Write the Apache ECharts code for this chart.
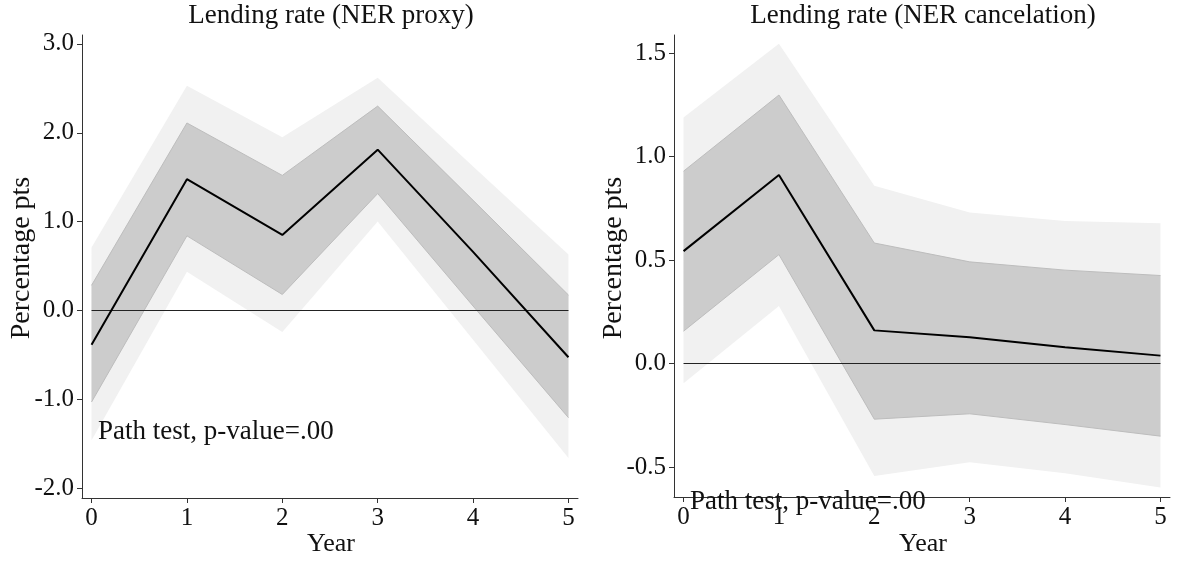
<!DOCTYPE html>
<html>
<head>
<meta charset="utf-8">
<script src="https://cdn.jsdelivr.net/npm/echarts@6/dist/echarts.min.js"></script>
<style>
html,body{margin:0;padding:0;background:#fff;}
#chart{width:1180px;height:563px;}
</style>
</head>
<body>
<div id="chart"></div>
<script>
// ---- data ----
const years = [0, 1, 2, 3, 4, 5];
const xTicks = [0, 1, 2, 3, 4, 5];

const proxyEst     = [-0.385, 1.478, 0.85, 1.81, 0.66, -0.526];
const proxyInnerLo = [-1.03, 0.84, 0.18, 1.316, 0.05, -1.206];
const proxyInnerHi = [0.283, 2.11, 1.52, 2.30, 1.24, 0.174];
const proxyOuterLo = [-1.46, 0.437, -0.243, 1.0, -0.33, -1.66];
const proxyOuterHi = [0.71, 2.53, 1.95, 2.62, 1.62, 0.63];
const proxyYTicks  = [-2, -1, 0, 1, 2, 3];

const cancelEst     = [0.543, 0.911, 0.16, 0.127, 0.078, 0.038];
const cancelInnerLo = [0.156, 0.526, -0.269, -0.243, -0.295, -0.351];
const cancelInnerHi = [0.929, 1.297, 0.582, 0.491, 0.451, 0.425];
const cancelOuterLo = [-0.095, 0.278, -0.543, -0.477, -0.53, -0.599];
const cancelOuterHi = [1.189, 1.545, 0.859, 0.729, 0.689, 0.677];
const cancelYTicks  = [-0.5, 0, 0.5, 1, 1.5];

const zeroLine = [0, 0, 0, 0, 0, 0];

const titles = ['Lending rate (NER proxy)', 'Lending rate (NER cancelation)'];
const yName = 'Percentage pts';
const xName = 'Year';
const noteText = 'Path test, p-value=.00';

// ---- chart ----
const FONT = '"Liberation Serif", "DejaVu Serif", serif';
const chart = echarts.init(document.getElementById('chart'), null, {renderer: 'canvas'});

function pairs(arr) { return years.map((x, i) => [x, arr[i]]); }

// confidence band drawn as one polygon through the axis scales (api.coord)
function band(g, lo, hi, color, edge) {
  const rows = years.map((x, i) => [x, lo[i], hi[i]]);
  return {
    type: 'custom', xAxisIndex: g, yAxisIndex: g, silent: true,
    data: rows,
    encode: {x: 0, y: [1, 2]},
    renderItem: function (params, api) {
      if (params.dataIndexInside !== 0) return null;
      const top = rows.map(r => api.coord([r[0], r[2]]));
      const bot = rows.map(r => api.coord([r[0], r[1]])).reverse();
      const children = [{
        type: 'polygon',
        shape: {points: top.concat(bot)},
        style: {fill: color, stroke: null}
      }];
      if (edge) {
        children.push({type: 'polyline', shape: {points: top},
          style: {stroke: edge, lineWidth: 1, fill: null}});
        children.push({type: 'polyline', shape: {points: bot},
          style: {stroke: edge, lineWidth: 1, fill: null}});
      }
      return {type: 'group', children: children};
    }
  };
}

function panelSeries(g, est, iLo, iHi, oLo, oHi) {
  return [
    band(g, oLo, oHi, '#f1f1f1', null),
    band(g, iLo, iHi, '#cccccc', '#bdbdbd'),
    {
      type: 'line', xAxisIndex: g, yAxisIndex: g, data: pairs(zeroLine),
      symbol: 'none', silent: true, lineStyle: {color: '#222', width: 1.2}
    }, {
      type: 'line', xAxisIndex: g, yAxisIndex: g, data: pairs(est),
      symbol: 'none', silent: true, lineStyle: {color: '#000', width: 2}
    }
  ];
}

const axisCommon = {
  axisLine: {show: true, onZero: false, lineStyle: {color: '#333', width: 1}},
  axisTick: {show: true, inside: false, length: 5, lineStyle: {color: '#333'}},
  splitLine: {show: false}
};

function xAxisFor(g) {
  return Object.assign({}, axisCommon, {
    type: 'value', gridIndex: g, min: -0.1, max: 5.1,
    axisTick: Object.assign({}, axisCommon.axisTick, {customValues: xTicks}),
    axisLabel: {customValues: xTicks, formatter: v => String(Math.round(v)),
      fontFamily: FONT, fontSize: 25, color: '#111', margin: 8}
  });
}
function yAxisFor(g, min, max, ticks) {
  return Object.assign({}, axisCommon, {
    type: 'value', gridIndex: g, min: min, max: max,
    axisTick: Object.assign({}, axisCommon.axisTick, {customValues: ticks}),
    axisLabel: {customValues: ticks, formatter: v => v.toFixed(1),
      fontFamily: FONT, fontSize: 25, color: '#111', margin: 8}
  });
}

function txt(x, y, text, size, align, rot) {
  return {
    type: 'text', x: x, y: y, rotation: rot || 0, silent: true, z: 100,
    style: {text: text, font: size + 'px ' + FONT, fill: '#111',
      textAlign: align, textVerticalAlign: 'middle'}
  };
}

const option = {
  animation: false,
  backgroundColor: '#fff',
  grid: [
    {left: 82, top: 35, width: 496, height: 463},
    {left: 674, top: 35, width: 496, height: 462}
  ],
  xAxis: [xAxisFor(0), xAxisFor(1)],
  yAxis: [
    yAxisFor(0, -2.11, 3.1, proxyYTicks),
    yAxisFor(1, -0.645, 1.587, cancelYTicks)
  ],
  series: [].concat(
    panelSeries(0, proxyEst, proxyInnerLo, proxyInnerHi, proxyOuterLo, proxyOuterHi),
    panelSeries(1, cancelEst, cancelInnerLo, cancelInnerHi, cancelOuterLo, cancelOuterHi)
  ),
  graphic: [
    txt(331, 16, titles[0], 27, 'center'),
    txt(923, 16, titles[1], 27, 'center'),
    txt(22, 258, yName, 28, 'center', Math.PI / 2),
    txt(614, 258, yName, 28, 'center', Math.PI / 2),
    txt(331, 544, xName, 26, 'center'),
    txt(923, 544, xName, 26, 'center'),
    txt(98, 432, noteText, 27, 'left'),
    txt(690, 502, noteText, 27, 'left')
  ]
};
chart.setOption(option);
</script>
</body>
</html>
